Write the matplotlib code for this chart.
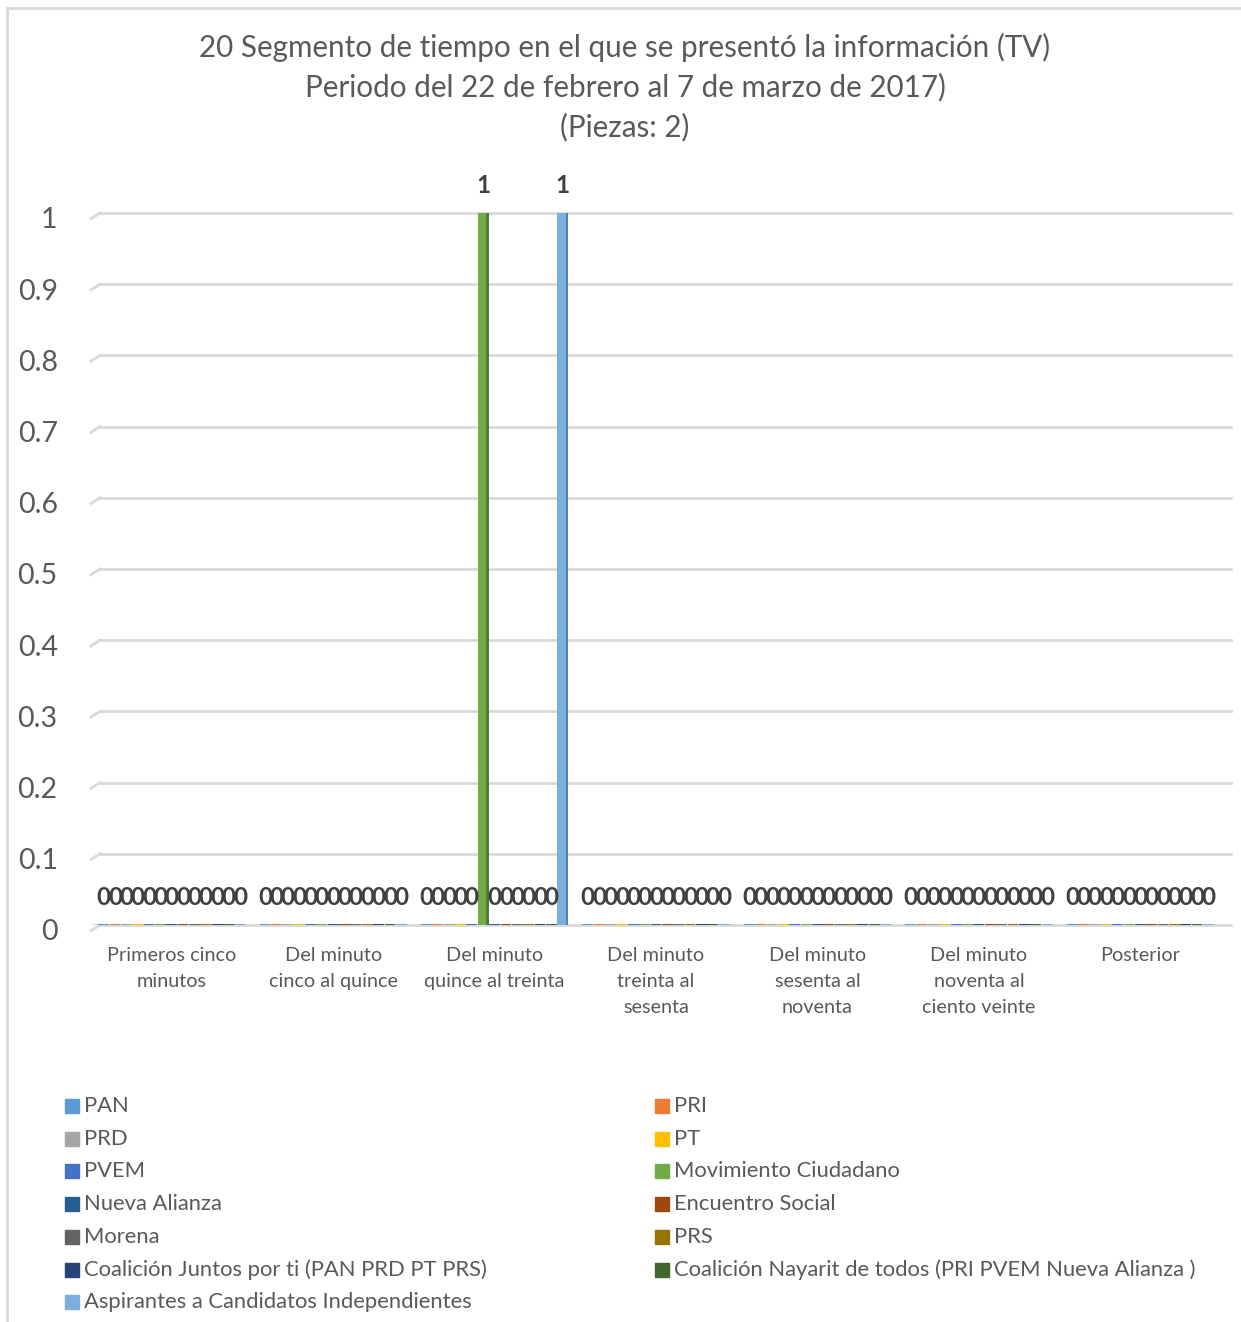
import matplotlib.pyplot as plt
import matplotlib.patches as patches
import matplotlib.transforms as mtransforms
import numpy as np

plt.rcParams['font.family'] = ['Lato', 'DejaVu Sans']

# Categories (time segments)
categories = ['Primeros cinco\nminutos', 'Del minuto\ncinco al quince', 'Del minuto\nquince al treinta',
              'Del minuto\ntreinta al\nsesenta', 'Del minuto\nsesenta al\nnoventa',
              'Del minuto\nnoventa al\nciento veinte', 'Posterior']

# Series (parties) and colours
series = ['PAN', 'PRI', 'PRD', 'PT', 'PVEM', 'Movimiento Ciudadano', 'Nueva Alianza',
          'Encuentro Social', 'Morena', 'PRS', 'Coalición Juntos por ti (PAN PRD PT PRS)',
          'Coalición Nayarit de todos (PRI PVEM Nueva Alianza )',
          'Aspirantes a Candidatos Independientes']
colors = ['#5B9BD5', '#ED7D31', '#A5A5A5', '#FFC000', '#4472C4', '#70AD47', '#255E91',
          '#9E480E', '#636363', '#997300', '#264478', '#43682B', '#7CAFDD']
side_colors = ['#41719C', '#AE5A21', '#787878', '#BC8C00', '#2F5597', '#507E32', '#1A4468',
               '#73340A', '#484848', '#705400', '#1B3157', '#2F4B1F', '#5A81A3']

# values[series][category]
values = [[0, 0, 0, 0, 0, 0, 0] for _ in series]
values[5][2] = 1   # Movimiento Ciudadano
values[12][2] = 1  # Aspirantes a Candidatos Independientes

yticks = [0, 0.1, 0.2, 0.3, 0.4, 0.5, 0.6, 0.7, 0.8, 0.9, 1]

title = ('20 Segmento de tiempo en el que se presentó la información (TV)\n'
         'Periodo del 22 de febrero al 7 de marzo de 2017)\n(Piezas: 2)')

W, H = 1241, 1322
fig = plt.figure(figsize=(W / 100, H / 100), dpi=100)
ax = fig.add_axes([91 / W, 1 - 925 / H, (1221 - 91) / W, (925 - 213) / H])

text_col = '#595959'
grid_col = '#D9D9D9'

n = len(series)
x = np.arange(len(categories))
group = 0.915
bw = group / n

# gridlines with a small 3D offset at the left
dx_px = 9
for t in yticks:
    ax.plot([-0.5 + dx_px / 161.3, 6.56], [t, t], color=grid_col, lw=2, zorder=0, clip_on=False)
    ax.plot([-0.5, -0.5 + dx_px / 161.3], [t - 0.008, t], color=grid_col, lw=2, zorder=0, clip_on=False)

for i, s in enumerate(series):
    xs = x - group / 2 + bw * (i + 0.5)
    vals = np.array([values[i][j] for j in range(len(categories))])
    # floor strip (visible for zero bars)
    ax.bar(xs, [0.005] * len(xs), width=bw * 0.95, bottom=-0.004, color=colors[i], zorder=2)
    # front face
    ax.bar(xs - bw * 0.12, vals, width=bw * 0.76, color=colors[i], zorder=3)
    # side face
    ax.bar(xs + bw * 0.38, vals, width=bw * 0.24, color=side_colors[i], zorder=3)
    for xi, v in zip(xs, vals):
        ax.annotate(f'{v:g}', (xi, v), xytext=(0, 20), textcoords='offset points',
                    ha='center', va='center', fontsize=17.5, fontweight='bold',
                    color='#404040', zorder=5, annotation_clip=False)

ax.set_xlim(-0.5, len(categories) - 0.5)
ax.set_ylim(0, 1)
ax.set_yticks(yticks)
ax.set_yticklabels([f'{t:g}' for t in yticks], fontsize=20.5, color=text_col)
ax.set_xticks(x)
ax.set_xticklabels(categories, fontsize=14.3, color=text_col, linespacing=1.62, va='top')
ax.tick_params(axis='both', length=0)
ax.tick_params(axis='y', pad=24)
ax.tick_params(axis='x', pad=16)
shift = mtransforms.ScaledTranslation(0, -5 / 100, fig.dpi_scale_trans)
for lab in ax.get_yticklabels():
    lab.set_transform(lab.get_transform() + shift)
for sp in ax.spines.values():
    sp.set_visible(False)
ax.axhline(0, color=grid_col, lw=2, zorder=1)

fig.text(625 / W, 1 - 87 / H, title, ha='center', va='center', fontsize=21.3,
         color=text_col, linespacing=1.48)

# legend, two columns filled row by row
for i, s in enumerate(series):
    row, col = divmod(i, 2)
    xm = 65 if col == 0 else 655
    ym = 1106 + row * 32.7
    fig.patches.append(patches.Rectangle((xm / W, 1 - (ym + 7) / H), 14 / W, 14 / H,
                                         transform=fig.transFigure, color=colors[i]))
    fig.text((xm + 19) / W, 1 - ym / H, s, ha='left', va='center', fontsize=15.8, color=text_col)

# chart border (top and left visible)
fig.add_artist(plt.Line2D([7 / W, 1], [1 - 8 / H, 1 - 8 / H], color=grid_col, lw=2))
fig.add_artist(plt.Line2D([7 / W, 7 / W], [0, 1 - 8 / H], color=grid_col, lw=2))

fig.savefig('out.png', dpi=100)
